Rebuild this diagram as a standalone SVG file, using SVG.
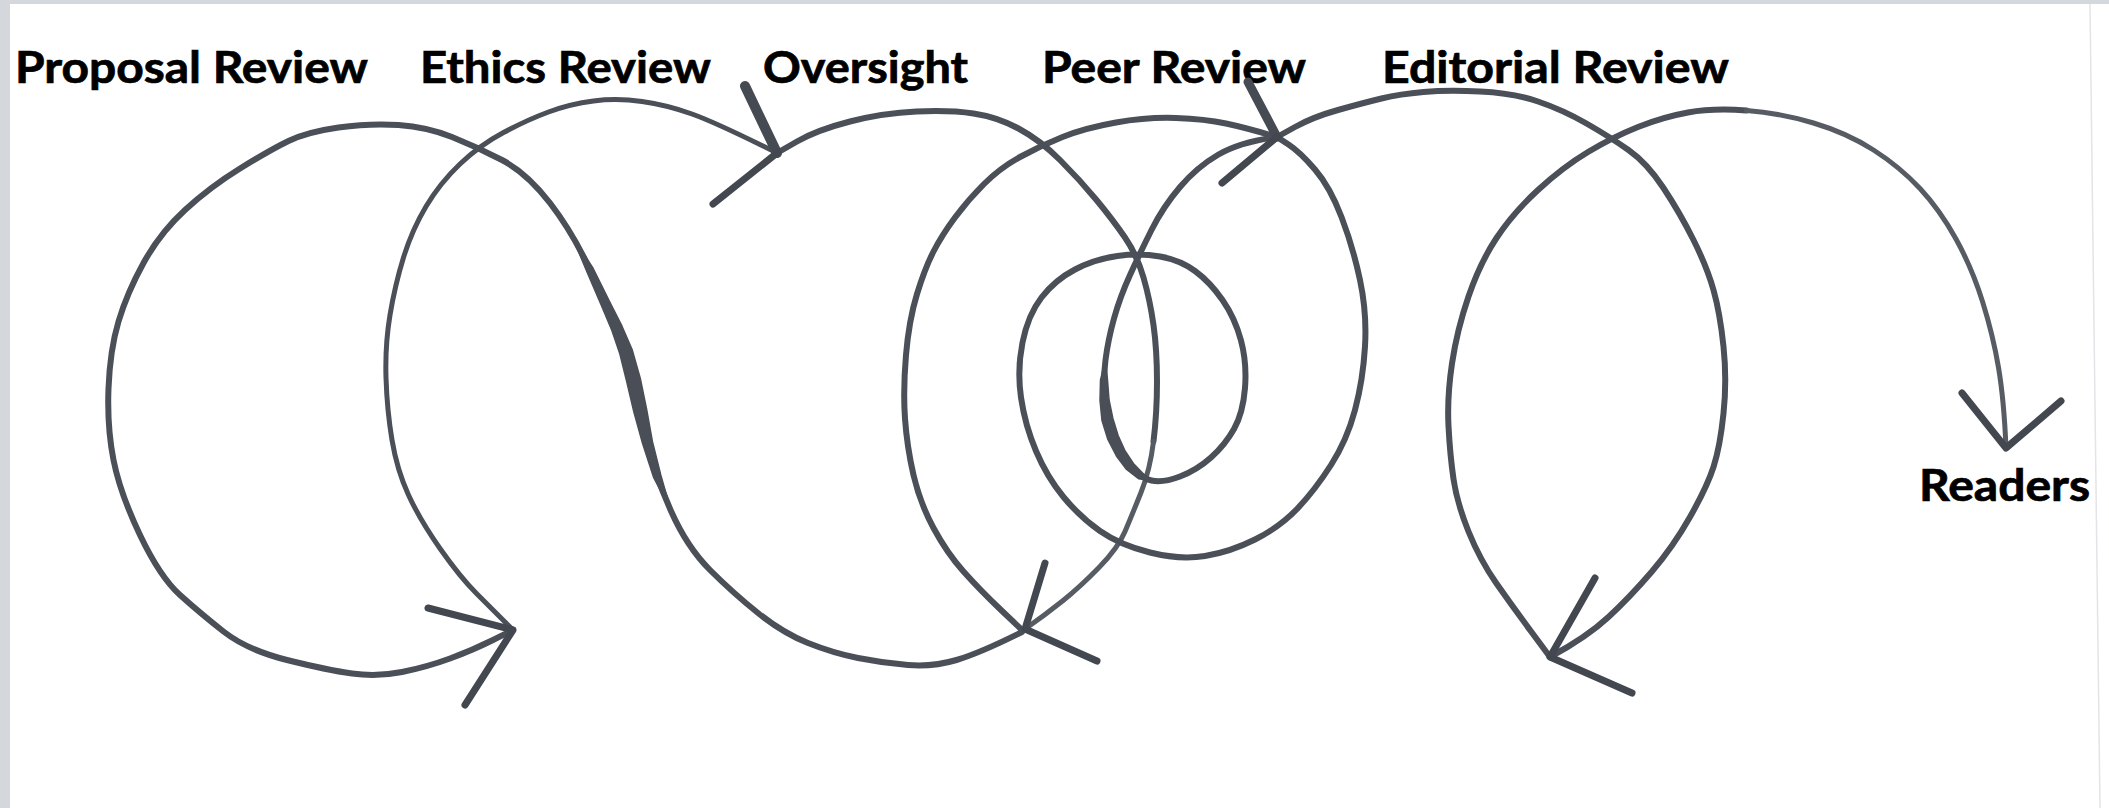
<svg xmlns="http://www.w3.org/2000/svg" width="2109" height="808" viewBox="0 0 2109 808">
<style>
.lbl{font-family:Lato,"Open Sans","Liberation Sans",sans-serif;font-weight:bold;font-size:43px;fill:#000;stroke:#000;stroke-width:0.7}
.pen{fill:none;stroke:#4b4f58;stroke-width:6;stroke-linecap:round;stroke-linejoin:round}
.thin{stroke-width:5}
.light{stroke:#575b63;stroke-width:5}
.barb{fill:none;stroke:#43474f;stroke-width:7;stroke-linecap:round;stroke-linejoin:round}
.heavy{fill:none;stroke:#464a52;stroke-linecap:round;stroke-linejoin:round}
.lens{fill:#4a4e56;stroke:#4a4e56;stroke-width:1.5;stroke-linejoin:round}
</style>
<rect x="0" y="0" width="2109" height="808" fill="#ffffff"/>
<rect x="0" y="0" width="10" height="808" fill="#d4d8dc"/>
<rect x="0" y="0" width="2109" height="4" fill="#d4d8dc"/>
<line x1="2090" y1="4" x2="2100" y2="808" stroke="#e2e4e7" stroke-width="1.5"/>

<g id="label-proposal"><text class="lbl" x="15" y="83" textLength="353" lengthAdjust="spacingAndGlyphs">Proposal Review</text></g>
<g id="label-ethics"><text class="lbl" x="420" y="83" textLength="291" lengthAdjust="spacingAndGlyphs">Ethics Review</text></g>
<g id="label-oversight"><text class="lbl" x="763" y="83" textLength="205" lengthAdjust="spacingAndGlyphs">Oversight</text></g>
<g id="label-peer"><text class="lbl" x="1042" y="83" textLength="264" lengthAdjust="spacingAndGlyphs">Peer Review</text></g>
<g id="label-editorial"><text class="lbl" x="1382" y="83" textLength="347" lengthAdjust="spacingAndGlyphs">Editorial Review</text></g>
<g id="label-readers"><text class="lbl" x="1919" y="501" textLength="171" lengthAdjust="spacingAndGlyphs">Readers</text></g>

<g id="connectors">
<!-- proposal loop + S curve -->
<path class="pen" d="M513,630 L493,640 Q473,650 450,658.5 Q427,667 402,672 Q377,677 352,673.5 Q327,670 287,660 Q247,650 223.5,631.5 Q200,613 180,595 Q160,577 140,535 Q120,493 113.5,460 Q107,427 108.5,388.5 Q110,350 118.5,321.5 Q127,293 143.5,263 Q160,233 185,210 Q210,187 240,168.5 Q270,150 288.5,141 Q307,132 338.5,127.5 Q370,123 398.5,125 Q427,127 452,137 Q477,147 502,160 Q527,173 550,203 Q573,233 590,270 Q607,307 617,328.5 Q627,350 633.5,380 Q640,410 647.5,442.5 Q655,475 671,511 Q687,547 710,570 Q733,593 758,613 Q783,633 808,643 Q833,653 858,658 Q883,663 908,665 Q933,667 956.5,660 Q980,653 1022,632"/>
<path class="lens" d="M571.5,234.75 L586.8,271.5 L601.2,305 L612,330.8 L619.9,354.1 L626.7,381.5 L633.9,412 L642.6,443.6 L653.5,477.1 L671,511 L660.7,474.7 L652.4,441.4 L646.6,409.2 L640.3,378.5 L632.3,350.1 L622,326.2 L609.3,301.2 L593.2,268.5 Z"/>
<!-- ethics loop -->
<path class="pen thin" d="M513,630 L503,620 Q493,610 476.5,593.5 Q460,577 440,548.5 Q420,520 408.5,495 Q397,470 392,440 Q387,410 386,377.5 Q385,345 390,315 Q395,285 403.5,257.5 Q412,230 426,206.5 Q440,183 460,164 Q480,145 503.5,132.5 Q527,120 548.5,112 Q570,104 593.5,101 Q617,98 642,101.5 Q667,105 692,114 Q717,123 777,153"/>
<!-- oversight loop -->
<path class="pen" d="M777,153 L797,141.5 Q817,130 850,121.5 Q883,113 916.5,111.5 Q950,110 973.5,113.5 Q997,117 1018.5,128.5 Q1040,140 1060,160 Q1080,180 1096.5,200 Q1113,220 1125,237.5 Q1137,255 1143.5,277.5 Q1150,300 1153.5,325 Q1157,350 1157,381.5 Q1157,413 1153.5,441.5"/>
<path class="pen light" d="M1153.5,441.5 Q1150,470 1141,492.5 Q1132,515 1125,531.5 Q1118,548 1099,567.5 Q1080,587 1062.5,601 Q1045,615 1025,629"/>
<!-- big left side up to peer, then editorial right side -->
<path class="pen" d="M1022,630 L1001,610 Q980,590 963.5,571.5 Q947,553 933.5,528 Q920,503 913.5,475 Q907,447 905,418.5 Q903,390 906,355 Q909,320 917,294 Q925,268 933.5,251.5 Q942,235 955,217.5 Q968,200 984,184 Q1000,168 1020,157 Q1040,146 1062.5,137 Q1085,128 1116,122.5 Q1147,117 1176,118 Q1205,119 1226,123.5 Q1247,128 1277,137"/>
<path class="pen" d="M1277,137 L1295,127 Q1313,117 1338,110 Q1363,103 1381.5,98.5 Q1400,94 1423.5,92 Q1447,90 1480,91.5 Q1513,93 1538,101.5 Q1563,110 1586.5,123.5 Q1610,137 1628.5,150 Q1647,163 1663.5,188 Q1680,213 1693.5,240 Q1707,267 1713.5,290 Q1720,313 1723.5,346.5 Q1727,380 1723.5,413.5 Q1720,447 1713.5,467 Q1707,487 1690,517 Q1673,547 1651.5,572 Q1630,597 1608.5,617 Q1587,637 1550,657"/>
<!-- peer spiral -->
<path class="pen" d="M1277,137 L1288.5,144.5 Q1300,152 1315,169.5 Q1330,187 1341.5,217 Q1353,247 1360,280 Q1367,313 1365,346.5 Q1363,380 1355,410 Q1347,440 1331,465 Q1315,490 1297.5,508.5 Q1280,527 1255,539.5 Q1230,552 1205,556 Q1180,560 1150,552.5 Q1120,545 1100,531 Q1080,517 1063.5,497 Q1047,477 1036,451 Q1025,425 1021,397.5 Q1017,370 1022.5,342.5 Q1028,315 1041.5,297.5 Q1055,280 1075,269.5 Q1095,259 1117.5,256 Q1140,253 1160,256.5 Q1180,260 1195,271 Q1210,282 1222.5,300 Q1235,318 1241,340.5 Q1247,363 1245,388 Q1243,413 1234,429 Q1225,445 1211,457.5 Q1197,470 1180,476.5 Q1163,483 1151.5,480.5 Q1140,478 1130,466.5 Q1120,455 1113,437.5 Q1106,420 1104.5,400 Q1103,380 1105.5,360 Q1108,340 1114,318.5 Q1120,297 1130,275 Q1140,253 1151.5,230 Q1163,207 1180,187 Q1197,167 1218.5,154.5 Q1240,142 1277,137"/>
<path class="lens" d="M1105.5,360 L1100.5,380 L1100,400.3 L1102,420.6 L1107.9,439.5 L1116.4,456 L1126.6,469.5 L1138.5,478.7 L1151.5,480.5 L1142.3,472.8 L1133.4,463.5 L1125.1,451 L1118.1,435.5 L1112.8,418.2 L1109,399.7 L1107.5,380 Z"/>
<!-- editorial left side + readers arc -->
<path class="pen" d="M1550,657 L1531.5,632 Q1513,607 1496.5,583.5 Q1480,560 1468.5,531.5 Q1457,503 1453.5,479 Q1450,455 1448.5,426 Q1447,397 1452,363.5 Q1457,330 1468.5,296.5 Q1480,263 1496.5,238 Q1513,213 1538,190 Q1563,167 1588,152 Q1613,137 1638,127 Q1663,117 1688,112.5 Q1713,108 1746.5,110.5"/>
<path class="pen light" d="M1746.5,110.5 Q1780,113 1813.5,123 Q1847,133 1873.5,150 Q1900,167 1920,188.5 Q1940,210 1956,239 Q1972,268 1982.5,301.5 Q1993,335 1998.5,367.5 Q2004,400 2006,448"/>

<!-- arrowheads -->
<path class="barb" d="M428,608 L513,630 L465,705"/>
<path class="heavy" stroke-width="10" d="M745,86 L777,153"/>
<path class="barb" d="M713,204 L777,153"/>
<path class="barb" d="M1045,563 L1025,629 L1097,661"/>
<path class="heavy" stroke-width="9" d="M1248,82 L1277,137"/>
<path class="barb" d="M1222,183 L1277,137"/>
<path class="barb" d="M1595,578 L1550,657 L1632,693"/>
<path class="barb" d="M1962,393 L2006,448 L2061,401"/>
</g>
</svg>
